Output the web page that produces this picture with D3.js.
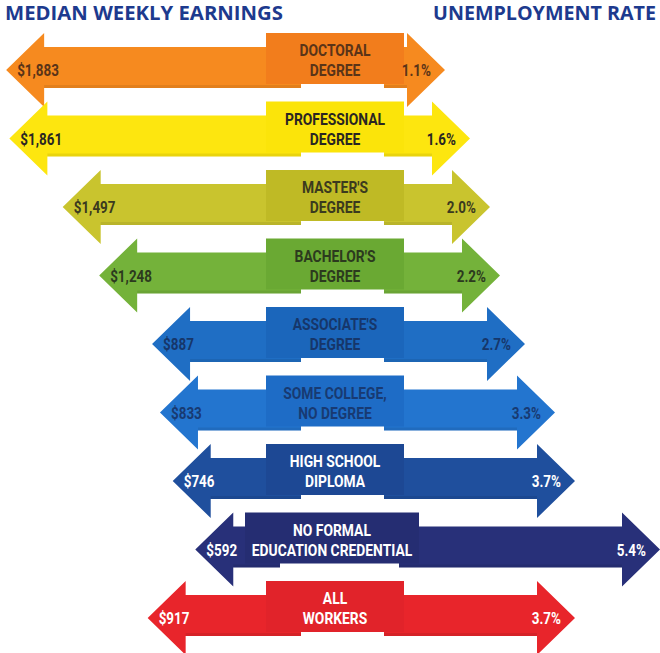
<!DOCTYPE html>
<html>
<head>
<meta charset="utf-8">
<script src="https://cdn.jsdelivr.net/npm/d3@7"></script>
<style>
  body { margin: 0; background: #fff; }
  svg { display: block; }
  .head { font-family: "Open Sans", sans-serif; font-weight: 700; fill: #1d3a8e; }
  .lbl, .val { font-family: "Roboto", "Liberation Sans", sans-serif; font-weight: 700; }
</style>
</head>
<body>
<svg id="chart" width="660" height="653"></svg>
<script>
const categories = [
  ["DOCTORAL", "DEGREE"],
  ["PROFESSIONAL", "DEGREE"],
  ["MASTER'S", "DEGREE"],
  ["BACHELOR'S", "DEGREE"],
  ["ASSOCIATE'S", "DEGREE"],
  ["SOME COLLEGE,", "NO DEGREE"],
  ["HIGH SCHOOL", "DIPLOMA"],
  ["NO FORMAL", "EDUCATION CREDENTIAL"],
  ["ALL", "WORKERS"]
];
const earnings = [1883, 1861, 1497, 1248, 887, 833, 746, 592, 917];
const unemployment = [1.1, 1.6, 2.0, 2.2, 2.7, 3.3, 3.7, 5.4, 3.7];

// styling per row: arrow, box, text
const arrowColors = ["#f68a1f", "#fde60f", "#c9c42e", "#74b23a", "#1f6ec4", "#2375cf", "#1f4f9d", "#283079", "#e8252b"];
const boxColors = ["#f27d1c", "#fbe40a", "#bfba25", "#6aa933", "#1b66bb", "#1e6cc6", "#1d4894", "#252d72", "#e1232a"];
const textColors = ["#5a3418", "#2a2622", "#3b3a1e", "#2c3a1e", "#16366a", "#183a72", "#ffffff", "#ffffff", "#ffffff"];

const svg = d3.select("#chart");

svg.append("text").attr("class", "head")
  .attr("x", 5).attr("y", 20).attr("font-size", 19)
  .attr("textLength", 278).attr("lengthAdjust", "spacingAndGlyphs")
  .text("MEDIAN WEEKLY EARNINGS");
svg.append("text").attr("class", "head")
  .attr("x", 433).attr("y", 20).attr("font-size", 19)
  .attr("textLength", 223).attr("lengthAdjust", "spacingAndGlyphs")
  .text("UNEMPLOYMENT RATE");

const rows = categories.map((c, i) => ({
  lines: c, pay: earnings[i], rate: unemployment[i], i
}));

const y = d3.scalePoint(d3.range(rows.length), [70, 618]);
const xPay = d3.scaleLinear([0, 2000], [282, 282 - 0.1465 * 2000]);
const xRate = d3.scaleLinear([0, 6], [390, 690]);

const headLen = 38, headH = 37, shaftT = 23, shaftB = 18;
const squeeze = 0.84;

// condensed text: horizontally squeezed Roboto
function narrowText(sel, cls, x, yy, size, anchor, fill, str) {
  sel.append("g").attr("transform", `translate(${x},${yy}) scale(${squeeze},1)`)
    .append("text").attr("class", cls).attr("text-anchor", anchor)
    .attr("font-size", size).attr("fill", fill).text(str);
}

const g = svg.selectAll(".row").data(rows).join("g").attr("class", "row")
  .attr("transform", d => `translate(0, ${y(d.i)})`);

g.each(function (d) {
  const row = d3.select(this);
  const wide = d.lines[1].length > 12;
  const bx0 = wide ? 245 : 266, bx1 = wide ? 419 : 404;
  const xl = xPay(d.pay), xr = xRate(d.rate);
  const col = arrowColors[d.i];

  const left = [
    [xl, 0], [xl + headLen, -headH], [xl + headLen, -shaftT], [bx0 + 35, -shaftT],
    [bx0 + 35, shaftB], [xl + headLen, shaftB], [xl + headLen, headH], [xl, 0]
  ];
  const right = [
    [bx1 - 20, -shaftT], [xr - headLen, -shaftT], [xr - headLen, -headH], [xr, 0],
    [xr - headLen, headH], [xr - headLen, shaftB], [bx1 - 20, shaftB]
  ];
  const line = d3.line();
  row.append("path").attr("d", line(left) + "Z").attr("fill", col);
  row.append("path").attr("d", line(right) + "Z").attr("fill", col);
  // darker lower edge on shafts
  row.append("rect").attr("x", xl + headLen).attr("y", shaftB - 3)
    .attr("width", bx0 + 35 - xl - headLen).attr("height", 3)
    .attr("fill", "#000").attr("opacity", 0.08);
  row.append("rect").attr("x", bx1 - 20).attr("y", shaftB - 3)
    .attr("width", xr - headLen - bx1 + 20).attr("height", 3)
    .attr("fill", "#000").attr("opacity", 0.08);

  row.append("rect").attr("x", bx0).attr("y", -headH).attr("width", bx1 - bx0)
    .attr("height", headH + 14).attr("fill", boxColors[d.i]);

  const tc = textColors[d.i];
  const cx = (bx0 + bx1) / 2;
  narrowText(row, "lbl", cx, -14, 16.5, "middle", tc, d.lines[0]);
  narrowText(row, "lbl", cx, 6, 16.5, "middle", tc, d.lines[1]);

  narrowText(row, "val", xl + 11, 6, 16, "start", tc, d3.format("$,")(d.pay));
  narrowText(row, "val", xr - 14, 6, 16, "end", tc, d3.format(".1f")(d.rate) + "%");
});
</script>
</body>
</html>
